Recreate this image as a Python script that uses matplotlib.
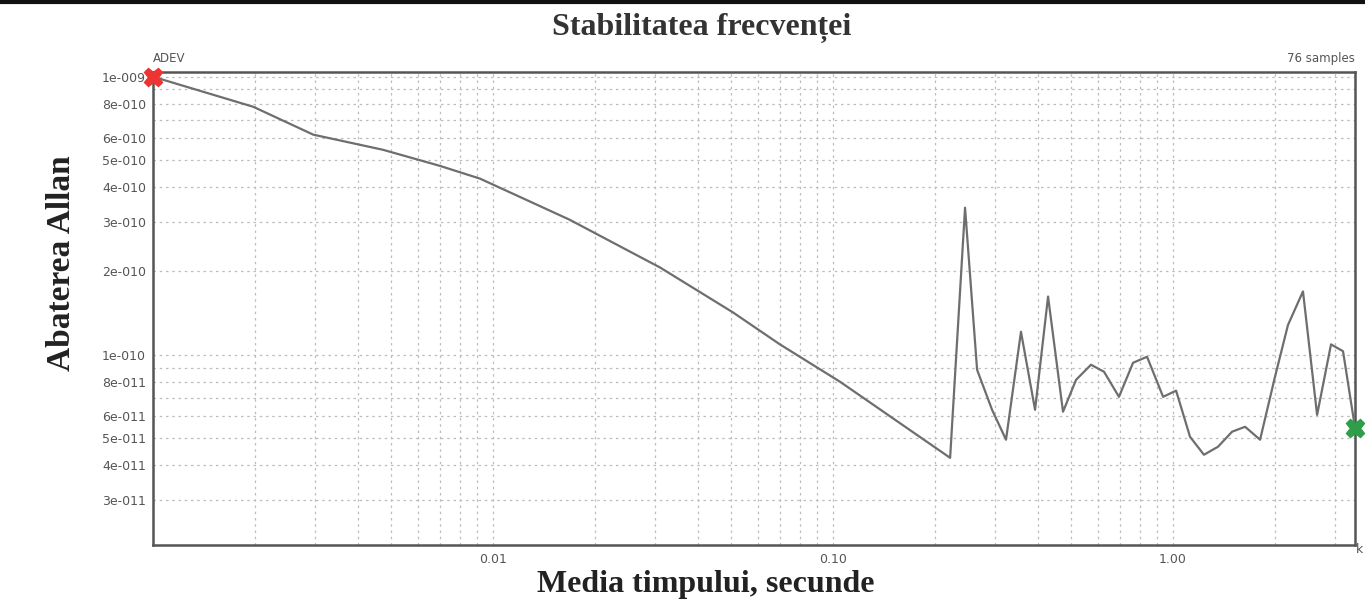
import numpy as np
import matplotlib
matplotlib.use('Agg')
import matplotlib.pyplot as plt

# averaging time (s) and Allan deviation
tau = [0.001, 0.00197, 0.00296, 0.00475, 0.00698, 0.00916, 0.0168, 0.031, 0.0508,
       0.0698, 0.105, 0.221, 0.2445, 0.2653, 0.2936, 0.3227, 0.3571, 0.3928,
       0.429, 0.4747, 0.5186, 0.5738, 0.6266, 0.6935, 0.7628, 0.8386, 0.935,
       1.021, 1.122, 1.233, 1.356, 1.492, 1.629, 1.803, 1.995, 2.178, 2.411,
       2.653, 2.915, 3.162, 3.43]
adev = [1.0e-9, 7.8e-10, 6.19e-10, 5.46e-10, 4.78e-10, 4.3e-10, 3.06e-10, 2.06e-10,
        1.42e-10, 1.09e-10, 7.99e-11, 4.26e-11, 3.38e-10, 8.83e-11,
        6.34e-11, 4.95e-11, 1.21e-10, 6.34e-11, 1.62e-10, 6.24e-11, 8.13e-11,
        9.21e-11, 8.69e-11, 7.06e-11, 9.36e-11, 9.84e-11, 7.06e-11, 7.43e-11,
        5.07e-11, 4.37e-11, 4.67e-11, 5.29e-11, 5.51e-11, 4.95e-11, 8.34e-11,
        1.28e-10, 1.69e-10, 6.08e-11, 1.09e-10, 1.03e-10, 5.46e-11]

yticks = [3e-11, 4e-11, 5e-11, 6e-11, 7e-11, 8e-11, 9e-11,
          1e-10, 2e-10, 3e-10, 4e-10, 5e-10, 6e-10, 7e-10, 8e-10, 9e-10, 1e-9]
ylabels = ['3e-011', '4e-011', '5e-011', '6e-011', '', '8e-011', '',
           '1e-010', '2e-010', '3e-010', '4e-010', '5e-010', '6e-010', '', '8e-010', '', '1e-009']
xlabeled = [0.01, 0.1, 1.0]
xlabels = ['0.01', '0.10', '1.00']

fig = plt.figure(figsize=(13.65, 6.01), dpi=100)
ax = fig.add_axes([0.1121, 0.0932, 0.8806, 0.787])

ax.plot(tau, adev, color='#6e6e6e', lw=1.6, zorder=3)
ax.plot(tau[0], adev[0], marker='X', ms=13, color='#ee3333', mec='#ee3333',
        clip_on=False, zorder=4)
ax.plot(tau[-1], adev[-1], marker='X', ms=13, color='#2e9e4a', mec='#2e9e4a',
        clip_on=False, zorder=4)

ax.set_xscale('log')
ax.set_yscale('log')
ax.set_xlim(0.001, 3.43)
ax.set_ylim(2.07e-11, 1.04e-9)

# grid on every decade subdivision
xgrid = [m * 10.0 ** e for e in range(-3, 1) for m in range(1, 10)]
xgrid = [v for v in xgrid if 0.001 < v < 3.43]
ax.set_xticks(xgrid, minor=True)
ax.set_xticks(xlabeled)
ax.set_xticklabels(xlabels)
ax.set_yticks(yticks)
ax.set_yticklabels(ylabels)
ax.yaxis.set_minor_locator(matplotlib.ticker.NullLocator())
ax.tick_params(which='both', length=0)
ax.tick_params(axis='both', labelsize=9, labelcolor='#555555')
ax.tick_params(axis='y', pad=5)
ax.tick_params(axis='x', pad=6)
ax.grid(True, which='both', ls=(0, (2, 3)), color='#bdbdbd', lw=0.9)

for s in ax.spines.values():
    s.set_color('#555555')
    s.set_linewidth(1.8)

ax.text(0.0, 1.015, 'ADEV', transform=ax.transAxes, fontsize=8.5, color='#555555',
        ha='left', va='bottom')
ax.text(1.0, 1.015, '76 samples', transform=ax.transAxes, fontsize=8.5, color='#555555',
        ha='right', va='bottom')
fig.text(0.993, 0.085, 'k', fontsize=9, color='#555555', ha='left', va='center')

serif = ['Liberation Serif', 'DejaVu Serif']
fig.text(0.514, 0.953, 'Stabilitatea frecvenței', family=serif, weight='bold',
         fontsize=23, color='#333333', ha='center', va='center')
fig.text(0.517, 0.027, 'Media timpului, secunde', family=serif, weight='bold',
         fontsize=23, color='#222222', ha='center', va='center')
fig.text(0.045, 0.562, 'Abaterea Allan', family=serif, weight='bold', rotation=90,
         fontsize=24, color='#222222', ha='center', va='center')

# top border of the scanned page
fig.add_artist(plt.Line2D([0, 1], [0.997, 0.997], transform=fig.transFigure,
                          color='#111111', lw=3))

fig.savefig('out.png', dpi=100)
